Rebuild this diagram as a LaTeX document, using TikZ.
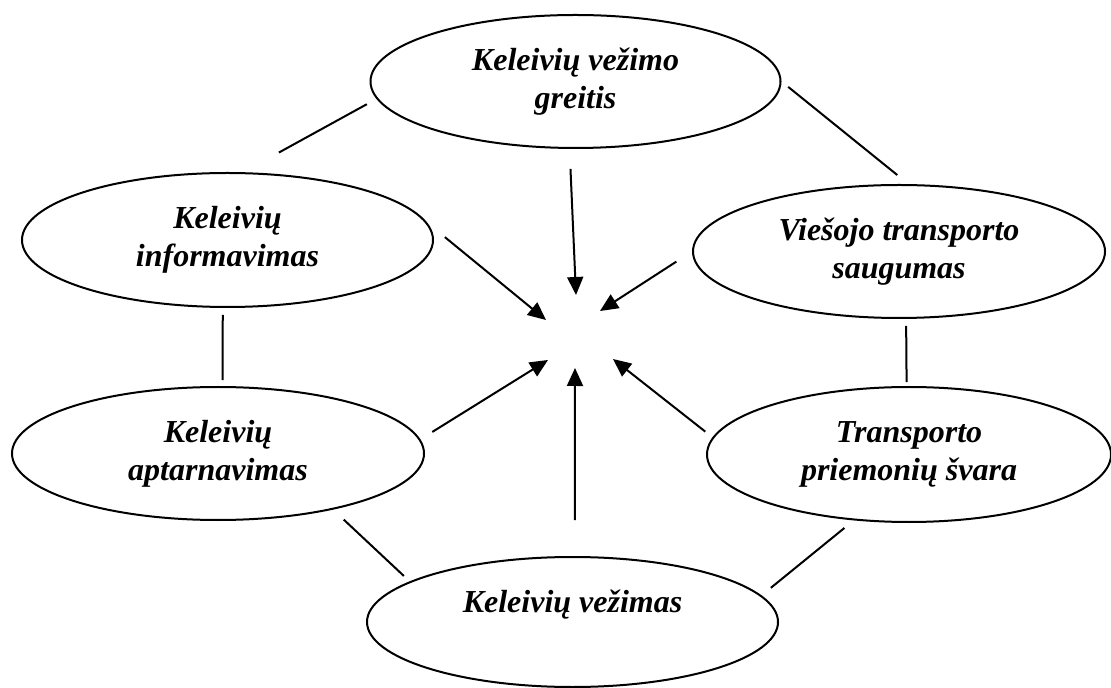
\documentclass[tikz,border=0pt]{standalone}
\usepackage{fontspec}
\setmainfont{Liberation Serif}
\usetikzlibrary{shapes.geometric,arrows.meta}
\tikzset{factor/.style={ellipse, draw, line width=1pt, inner sep=0pt, align=center,
    font=\fontsize{16}{19}\selectfont\bfseries\itshape,
    execute at begin node=\rule{0pt}{22pt}},
  link/.style={line width=1pt},
  pull/.style={line width=1pt, -{Triangle[length=9pt,width=8pt]}}}

\begin{document}
\begin{tikzpicture}[x=0.5pt,y=-0.5pt]
\useasboundingbox (0,0) rectangle (1111,688);
\node[factor, minimum width=205pt, minimum height=66.5pt] (speed) at (575.5,81.5) {Keleivių vežimo\\greitis};
\node[factor, minimum width=205.5pt, minimum height=67pt] (info) at (227.5,240) {Keleivių\\informavimas};
\node[factor, minimum width=206pt, minimum height=66.5pt] (safety) at (899,251.5) {Viešojo transporto\\saugumas};
\node[factor, minimum width=206pt, minimum height=66.5pt] (service) at (218,453.5) {Keleivių\\aptarnavimas};
\node[factor, minimum width=202pt, minimum height=67.5pt] (clean) at (909,454.5) {Transporto\\priemonių švara};
\node[factor, minimum width=205.5pt, minimum height=65pt] (carriage) at (572.5,622) {Keleivių vežimas\\[-4pt]\strut};

\coordinate (tip-speed) at (576,295);
\coordinate (tip-info) at (546,320);
\coordinate (tip-safety) at (600,311);
\coordinate (tip-service) at (548,360);
\coordinate (tip-carriage) at (575,368);
\coordinate (tip-clean) at (613,359);

\foreach \src/\ang/\gap in {speed/265/10pt, info/5/11.5pt, safety/180/9.3pt,
    service/4/7pt, carriage/88/18pt, clean/175/4.6pt}{
  \draw[pull, shorten <=\gap] (\src.\ang) -- (tip-\src);
}

\foreach \a/\b/\gapa/\gapb in {info.77/speed.185/20.4pt/5.5pt, speed.0/safety.82/4.3pt/7.2pt,
    info.266/service.86/3.5pt/3pt, safety.276/clean.92/3.5pt/2pt,
    service.334/carriage.166/7.3pt/4pt, carriage.8/clean.230/6pt/6pt}{
  \draw[link, shorten <=\gapa, shorten >=\gapb] (\a) -- (\b);
}
\end{tikzpicture}
\end{document}
